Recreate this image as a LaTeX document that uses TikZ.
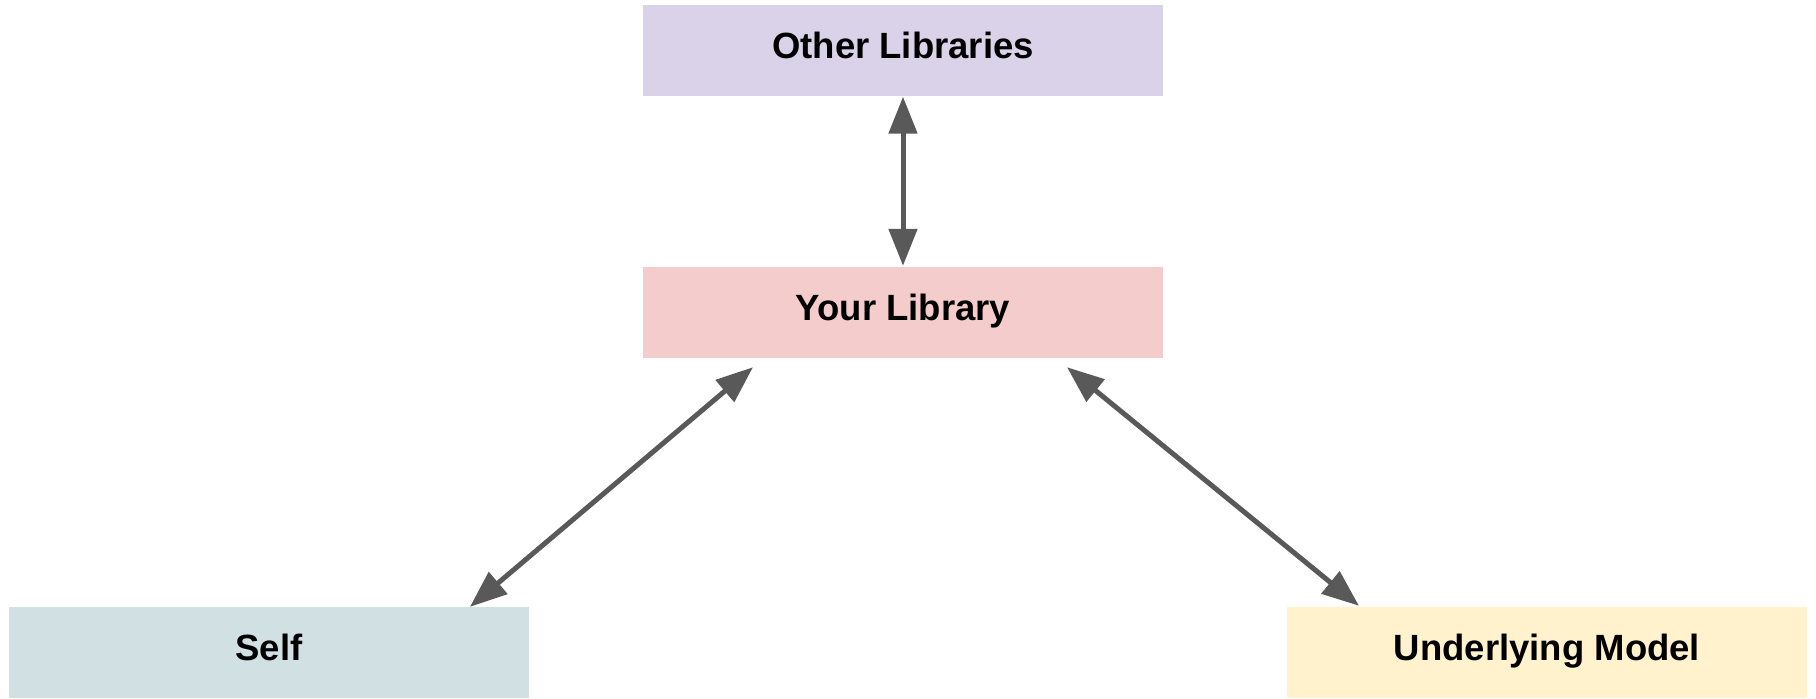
\documentclass[tikz,border=0pt]{standalone}
\usepackage{fontspec}
\setmainfont{Liberation Sans}
\usetikzlibrary{arrows.meta,calc}
\definecolor{otherc}{HTML}{D9D2E9}
\definecolor{yourc}{HTML}{F4CCCC}
\definecolor{selfc}{HTML}{D0E0E3}
\definecolor{undc}{HTML}{FFF2CC}
\definecolor{arrc}{HTML}{595959}
\tikzset{
  box/.style={minimum width=520pt, minimum height=91pt, inner sep=0pt, text height=16pt, text depth=0pt, font=\fontsize{36.5}{40}\selectfont\bfseries},
  link/.style={draw=arrc, line width=5pt, {Triangle[length=37pt,width=28pt]}-{Triangle[length=37pt,width=28pt]}}
}
\begin{document}
\begin{tikzpicture}[x=1pt,y=-1pt]
\useasboundingbox (0,0) rectangle (1816,699);
\node[box, fill=otherc] (other) at (903,50) {Other Libraries};
\node[box, fill=yourc] (your) at (903,312.5) {Your Library};
\node[box, fill=selfc] (self) at (269,652.5) {Self};
\node[box, fill=undc] (und) at (1547,652.5) {Underlying Model};
\draw[link] ($(other.south)+(0,1)$) -- ($(your.north)+(0,-1)$);
\draw[link] ($(your.south)+(-150,9)$) -- ($(self.north)+(201,0)$);
\draw[link] ($(your.south)+(164,9)$) -- ($(und.north)+(-188,-1)$);
\end{tikzpicture}
\end{document}
